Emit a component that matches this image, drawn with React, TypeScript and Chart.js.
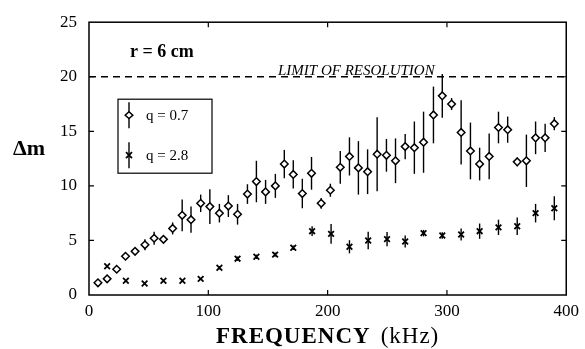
import { useEffect, useRef } from "react";
import { Chart, registerables } from "chart.js";

Chart.register(...registerables);

// q = 0.7 series (diamonds)
const freqLow = [7.5, 15.2, 23.2, 30.6, 38.6, 46.9, 54.6, 62.4, 70.1, 78.1, 85.5, 93.6, 101.3, 109.3, 116.8, 124.5, 132.8, 140.3, 148, 156.2, 163.7, 171.2, 178.8, 186.5, 194.6, 202.3, 210.6, 218.3, 225.8, 233.5, 241.5, 249.3, 256.9, 265, 272.7, 280.4, 288.7, 296.1, 303.9, 311.9, 319.7, 327.4, 335.4, 343.2, 350.9, 358.9, 366.6, 374.3, 382.3, 390];
const dmLow = [1.12, 1.48, 2.36, 3.55, 4.0, 4.6, 5.2, 5.1, 6.1, 7.3, 6.9, 8.4, 8.1, 7.5, 8.15, 7.4, 9.25, 10.4, 9.45, 10.0, 12.0, 11.05, 9.3, 11.15, 8.4, 9.6, 11.7, 12.7, 11.65, 11.3, 12.9, 12.8, 12.3, 13.6, 13.5, 14.0, 16.5, 18.25, 17.5, 14.9, 13.2, 12.0, 12.7, 15.35, 15.15, 12.2, 12.3, 14.4, 14.4, 15.7];
const errLow = [0.1, 0.1, 0.1, 0.1, 0.2, 0.5, 0.6, 0.25, 0.55, 1.45, 1.2, 0.8, 1.6, 0.85, 1.0, 0.95, 0.9, 1.9, 1.1, 1.1, 1.3, 1.3, 1.35, 1.5, 0.5, 0.6, 1.5, 1.75, 2.45, 2.05, 3.4, 1.5, 2.05, 1.15, 2.4, 2.8, 2.6, 2.0, 0.55, 2.95, 2.6, 1.5, 2.1, 1.45, 1.2, 0.4, 2.4, 1.5, 1.3, 0.6];

// q = 2.8 series (crosses)
const freqHigh = [15.2, 30.9, 46.6, 62.4, 78.3, 93.6, 109.3, 124.5, 140.3, 156, 171.2, 187, 202.9, 218.3, 234, 249.8, 265, 280.4, 296.1, 311.9, 327.4, 343.2, 358.9, 374.3, 390];
const dmHigh = [2.64, 1.3, 1.06, 1.3, 1.3, 1.48, 2.5, 3.33, 3.5, 3.7, 4.33, 5.85, 5.6, 4.42, 5.0, 5.12, 4.9, 5.67, 5.45, 5.55, 5.85, 6.2, 6.3, 7.5, 7.95];
const errHigh = [0.1, 0.05, 0.05, 0.05, 0.05, 0.05, 0.15, 0.2, 0.2, 0.2, 0.2, 0.45, 0.9, 0.6, 0.8, 0.65, 0.55, 0.3, 0.3, 0.55, 0.7, 0.7, 0.8, 0.85, 1.1];

const xMin = 0;
const xMax = 400;
const xStep = 100;
const yMin = 0;
const yMax = 25;
const yStep = 5;
const limitValue = 20;
const limitLabel = "LIMIT OF RESOLUTION";
const radiusLabel = "r = 6 cm";
const legendLabels = ["q = 0.7", "q = 2.8"];
const xTitleMain = "FREQUENCY";
const xTitleUnit = "(kHz)";
const yTitle = "\u0394m";

const SERIF = "'Liberation Serif', 'Times New Roman', serif";
const errorsByDataset = [errLow, errHigh];

const drawDiamond = (ctx: CanvasRenderingContext2D, x: number, y: number) => {
  ctx.beginPath();
  ctx.moveTo(x, y - 3.4);
  ctx.lineTo(x + 3.8, y);
  ctx.lineTo(x, y + 3.4);
  ctx.lineTo(x - 3.8, y);
  ctx.closePath();
  ctx.fillStyle = "#fff";
  ctx.fill();
  ctx.stroke();
  ctx.fillStyle = "#000";
};
const drawCross = (ctx: CanvasRenderingContext2D, x: number, y: number) => {
  ctx.beginPath();
  ctx.moveTo(x - 3, y - 3);
  ctx.lineTo(x + 3, y + 3);
  ctx.moveTo(x + 3, y - 3);
  ctx.lineTo(x - 3, y + 3);
  ctx.stroke();
};

const decor = {
  id: "decor",
  beforeDatasetsDraw(chart: any) {
    const { ctx, chartArea: a, scales } = chart;
    const xs = scales.x;
    const ys = scales.y;
    ctx.save();
    // limit line
    const yl = ys.getPixelForValue(limitValue);
    ctx.strokeStyle = "#000";
    ctx.lineWidth = 1.3;
    ctx.setLineDash([7, 5]);
    ctx.beginPath();
    ctx.moveTo(a.left, yl);
    ctx.lineTo(a.right, yl);
    ctx.stroke();
    ctx.setLineDash([]);
    // error bars
    chart.data.datasets.forEach((ds: any, di: number) => {
      const errs = errorsByDataset[di];
      ctx.lineWidth = 1.4;
      ds.data.forEach((p: any, i: number) => {
        const e = errs[i];
        const px = xs.getPixelForValue(p.x);
        ctx.beginPath();
        ctx.moveTo(px, ys.getPixelForValue(p.y + e));
        ctx.lineTo(px, ys.getPixelForValue(p.y - e));
        ctx.stroke();
      });
    });
    ctx.restore();
  },
  afterDraw(chart: any) {
    const { ctx, chartArea: a, scales } = chart;
    const xs = scales.x;
    const ys = scales.y;
    ctx.save();
    ctx.strokeStyle = "#000";
    ctx.fillStyle = "#000";
    // frame
    ctx.lineWidth = 1.5;
    ctx.strokeRect(a.left, a.top, a.right - a.left, a.bottom - a.top);
    // inward ticks
    const tl = 5;
    ctx.lineWidth = 1.2;
    ctx.beginPath();
    for (let v = xMin + xStep; v < xMax; v += xStep) {
      const px = xs.getPixelForValue(v);
      ctx.moveTo(px, a.bottom);
      ctx.lineTo(px, a.bottom - tl);
      ctx.moveTo(px, a.top);
      ctx.lineTo(px, a.top + tl);
    }
    for (let v = yMin + yStep; v < yMax; v += yStep) {
      const py = ys.getPixelForValue(v);
      ctx.moveTo(a.left, py);
      ctx.lineTo(a.left + tl, py);
      ctx.moveTo(a.right, py);
      ctx.lineTo(a.right - tl, py);
    }
    ctx.stroke();

    // limit label
    const yl = ys.getPixelForValue(limitValue);
    ctx.font = `italic 15px ${SERIF}`;
    ctx.textBaseline = "alphabetic";
    ctx.textAlign = "left";
    ctx.fillText(limitLabel, a.left + 189, yl - 2);

    // r = 6 cm
    ctx.font = `bold 18px ${SERIF}`;
    ctx.fillText(radiusLabel, a.left + 41, a.top + 35);

    // legend
    const lx = a.left + 29;
    const ly = a.top + 77;
    const lw = 94;
    const lh = 74;
    ctx.lineWidth = 1.2;
    ctx.strokeRect(lx, ly, lw, lh);
    const mx = lx + 11;
    const rows = [ly + 16, ly + 56];
    rows.forEach((ry, i) => {
      ctx.lineWidth = 1.4;
      ctx.beginPath();
      ctx.moveTo(mx, ry - 13);
      ctx.lineTo(mx, ry + 13);
      ctx.stroke();
      if (i === 0) {
        ctx.lineWidth = 1.5;
        drawDiamond(ctx, mx, ry);
      } else {
        ctx.lineWidth = 1.8;
        drawCross(ctx, mx, ry);
      }
      ctx.fillStyle = "#000";
      ctx.font = `15px ${SERIF}`;
      ctx.textBaseline = "middle";
      ctx.textAlign = "left";
      ctx.fillText(legendLabels[i], lx + 28, ry + 1);
    });

    // x title
    ctx.fillStyle = "#000";
    ctx.textBaseline = "alphabetic";
    ctx.textAlign = "left";
    const boldFont = `bold 23px ${SERIF}`;
    const regFont = `23px ${SERIF}`;
    ctx.font = boldFont;
    (ctx as any).letterSpacing = "1px";
    const w1 = ctx.measureText(xTitleMain).width;
    ctx.font = regFont;
    const w2 = ctx.measureText(xTitleUnit).width;
    const gap = 10;
    const cx = (a.left + a.right) / 2;
    const start = cx - (w1 + gap + w2) / 2;
    ctx.font = boldFont;
    ctx.fillText(xTitleMain, start, a.bottom + 48);
    ctx.font = regFont;
    ctx.fillText(xTitleUnit, start + w1 + gap, a.bottom + 48);
    (ctx as any).letterSpacing = "0px";

    // y title
    ctx.font = `bold 22px ${SERIF}`;
    ctx.textAlign = "center";
    ctx.fillText(yTitle, 29, a.top + 133);
    ctx.restore();
  },
};

export default function App() {
  const ref = useRef<HTMLCanvasElement | null>(null);
  useEffect(() => {
    if (!ref.current) return;
    const chart = new Chart(ref.current, {
      type: "scatter",
      data: {
        datasets: [
          {
            label: legendLabels[0],
            data: freqLow.map((x, i) => ({ x, y: dmLow[i] })),
            pointStyle: "rectRot",
            pointRadius: 3.8,
            borderWidth: 1.5,
            borderColor: "#000",
            backgroundColor: "#fff",
          },
          {
            label: legendLabels[1],
            data: freqHigh.map((x, i) => ({ x, y: dmHigh[i] })),
            pointStyle: "crossRot",
            pointRadius: 4,
            borderWidth: 1.8,
            borderColor: "#000",
            backgroundColor: "#000",
          },
        ],
      },
      options: {
        responsive: false,
        animation: false,
        events: [],
        layout: { padding: { top: 20, right: 13, left: 0, bottom: 0 } },
        plugins: { legend: { display: false }, tooltip: { enabled: false } },
        scales: {
          x: {
            type: "linear",
            min: xMin,
            max: xMax,
            grid: { display: false, drawTicks: false },
            border: { display: false },
            ticks: {
              stepSize: xStep,
              color: "#000",
              padding: 6,
              maxRotation: 0,
              font: { family: SERIF, size: 17 },
            },
            afterFit: (s: any) => {
              s.height = 54;
            },
          },
          y: {
            type: "linear",
            min: yMin,
            max: yMax,
            grid: { display: false, drawTicks: false },
            border: { display: false },
            ticks: {
              stepSize: yStep,
              color: "#000",
              padding: 12,
              font: { family: SERIF, size: 17 },
            },
            afterFit: (s: any) => {
              s.width = 89;
            },
          },
        },
      },
      plugins: [decor],
    });
    return () => chart.destroy();
  }, []);
  return (
    <div style={{ position: "absolute", left: 0, top: 0, width: 585, height: 349, background: "#fff" }}>
      <canvas ref={ref} width={585} height={349} style={{ display: "block" }} />
    </div>
  );
}
